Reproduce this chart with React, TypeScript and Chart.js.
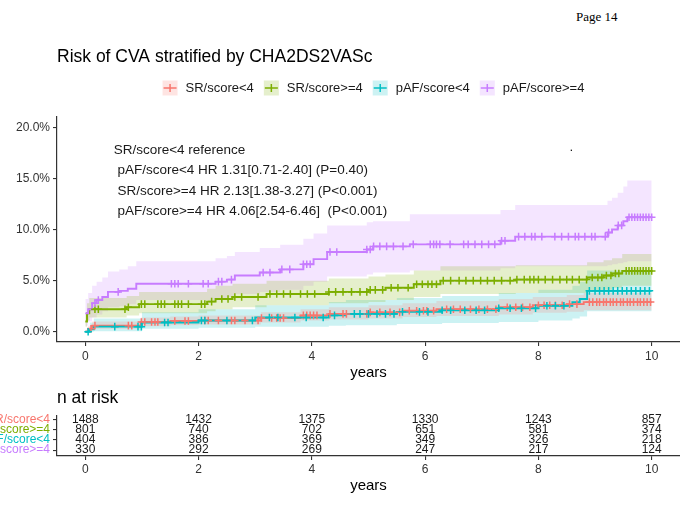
import React, { useEffect, useRef } from "react";
import { Chart, registerables } from "chart.js";

Chart.register(...registerables);

// groups and colours (ggplot default hues)
const groups = ["SR/score<4", "SR/score>=4", "pAF/score<4", "pAF/score>=4"];
const colors = ["#F8766D", "#7CAE00", "#00BFC4", "#C77CFF"];
const bandColors = [
  "rgba(248,118,109,0.2)",
  "rgba(124,174,0,0.2)",
  "rgba(0,191,196,0.2)",
  "rgba(199,124,255,0.2)",
];

const chartTitle = "Risk of CVA stratified by CHA2DS2VASc";
const annotationLines = [
  "SR/score<4 reference",
  " pAF/score<4 HR 1.31[0.71-2.40] (P=0.40)",
  " SR/score>=4 HR 2.13[1.38-3.27] (P<0.001)",
  " pAF/score>=4 HR 4.06[2.54-6.46]  (P<0.001)",
];

const xTicks = [0, 2, 4, 6, 8, 10];
const yTicks = [0, 5, 10, 15, 20];

// SR/score<4 (cumulative risk %, step points)
const srLowTimes = [0, 0.05, 0.12, 0.98, 1.5, 2.0, 3.1, 3.8, 4.3, 5.0, 5.6, 6.2, 7.3, 7.9, 8.5, 8.8, 10];
const srLowRisk = [0, 0.3, 0.6, 0.95, 1.05, 1.1, 1.35, 1.6, 1.75, 1.9, 2.05, 2.2, 2.4, 2.6, 2.7, 2.9, 2.9];
const srLowUpper = [0.2, 0.6, 1.0, 1.4, 1.5, 1.6, 1.9, 2.2, 2.4, 2.6, 2.8, 3.0, 3.2, 3.4, 3.6, 3.8, 3.8];
const srLowLower = [0, 0.1, 0.3, 0.55, 0.65, 0.7, 0.9, 1.1, 1.2, 1.3, 1.45, 1.55, 1.7, 1.85, 1.95, 2.1, 2.1];
const srLowCensor = [
  0.1, 0.17, 0.76, 0.82, 0.99, 1.05, 1.17, 1.23, 1.28, 1.58, 1.76, 1.82, 2.11, 2.17, 2.35, 2.58, 2.64, 2.82,
  3.05, 3.11, 3.29, 3.38, 3.44, 3.5, 3.85, 3.91, 3.97, 4.03, 4.09, 4.32, 4.55, 4.61, 4.97, 5.03, 5.2, 5.38,
  5.55, 5.72, 5.85, 5.97, 6.03, 6.15, 6.38, 6.5, 6.62, 6.8, 6.95, 7.1, 7.25, 7.45, 7.6, 7.72, 7.85, 8.0, 8.1,
  8.2, 8.3, 8.42, 8.55, 8.68, 8.9, 8.96, 9.03, 9.08, 9.15, 9.2, 9.27, 9.32, 9.38, 9.45, 9.5, 9.57, 9.62, 9.68,
  9.75, 9.8, 9.86, 9.92, 9.98,
];

// SR/score>=4
const srHighTimes = [0, 0.03, 0.07, 0.73, 0.95, 2.15, 2.3, 2.6, 3.2, 4.3, 5.0, 5.3, 5.8, 6.27, 7.6, 8.86, 9.15, 9.3, 9.48, 10];
const srHighRisk = [1.0, 1.8, 2.2, 2.4, 2.7, 2.95, 3.2, 3.4, 3.7, 3.9, 4.1, 4.3, 4.65, 5.0, 5.1, 5.3, 5.5, 5.7, 5.95, 5.95];
const srHighUpper = [1.8, 2.8, 3.3, 3.5, 3.9, 4.2, 4.5, 4.7, 5.0, 5.2, 5.4, 5.6, 6.0, 6.4, 6.5, 6.8, 7.0, 7.2, 7.6, 7.6];
const srHighLower = [0.5, 1.1, 1.4, 1.6, 1.8, 2.0, 2.2, 2.4, 2.6, 2.8, 2.9, 3.1, 3.4, 3.7, 3.8, 3.9, 4.1, 4.3, 4.5, 4.5];
const srHighCensor = [
  0.17, 0.23, 0.7, 0.76, 0.99, 1.05, 1.28, 1.34, 1.4, 1.58, 1.64, 1.7, 1.82, 2.05, 2.11, 2.23, 2.41, 2.52, 2.64,
  2.76, 3.05, 3.26, 3.38, 3.5, 3.62, 3.8, 3.92, 4.05, 4.3, 4.42, 4.55, 4.7, 4.85, 4.97, 5.03, 5.12, 5.25, 5.4,
  5.52, 5.7, 5.85, 5.95, 6.05, 6.12, 6.2, 6.32, 6.45, 6.6, 6.72, 6.85, 6.98, 7.1, 7.22, 7.35, 7.5, 7.62, 7.75,
  7.85, 7.92, 8.0, 8.12, 8.25, 8.38, 8.5, 8.6, 8.72, 8.85, 8.95, 9.05, 9.12, 9.2, 9.28, 9.36, 9.42, 9.55, 9.6,
  9.65, 9.7, 9.75, 9.8, 9.85, 9.9, 9.95, 10.0,
];

// pAF/score<4
const pafLowTimes = [0, 0.08, 0.15, 1.0, 2.0, 3.0, 4.3, 4.6, 5.5, 6.3, 7.3, 8.0, 8.6, 8.73, 8.86, 10];
const pafLowRisk = [0, 0.25, 0.5, 0.9, 1.1, 1.4, 1.6, 1.75, 1.95, 2.1, 2.3, 2.55, 2.9, 3.2, 4.0, 4.0];
const pafLowUpper = [0, 0.9, 1.3, 1.9, 2.2, 2.6, 2.9, 3.1, 3.3, 3.5, 3.8, 4.1, 4.5, 4.9, 6.0, 6.0];
const pafLowLower = [0, 0, 0.05, 0.3, 0.4, 0.5, 0.6, 0.65, 0.75, 0.85, 0.95, 1.1, 1.3, 1.5, 2.0, 2.0];
const pafLowCensor = [
  0.05, 0.52, 0.93, 0.99, 1.4, 1.46, 2.05, 2.11, 2.5, 2.95, 3.25, 3.4, 3.7, 3.9, 4.2, 4.4, 4.75, 4.85, 5.0,
  5.15, 5.3, 5.45, 5.6, 5.9, 6.05, 6.3, 6.45, 6.7, 6.9, 7.05, 7.3, 7.5, 7.7, 7.95, 8.15, 8.3, 8.45, 8.9, 9.0,
  9.08, 9.16, 9.24, 9.32, 9.4, 9.48, 9.56, 9.64, 9.72, 9.8, 9.88, 9.96,
];

// pAF/score>=4
const pafHighTimes = [0, 0.05, 0.12, 0.2, 0.3, 0.4, 0.6, 0.75, 0.9, 2.3, 2.5, 2.64, 3.08, 3.44, 3.85, 4.03, 4.27, 4.97, 5.08, 5.73, 7.33, 7.59, 9.22, 9.3, 9.4, 9.5, 9.57, 10.0];
const pafHighRisk = [1.8, 2.2, 2.8, 3.1, 3.4, 3.9, 4.0, 4.2, 4.7, 4.9, 5.1, 5.5, 5.8, 6.1, 6.6, 7.1, 7.8, 8.05, 8.35, 8.55, 8.9, 9.3, 9.7, 10.0, 10.4, 10.8, 11.2, 11.2];
const pafHighUpper = [3.2, 3.8, 4.5, 4.9, 5.3, 5.9, 6.1, 6.4, 6.9, 7.2, 7.4, 7.8, 8.2, 8.5, 9.1, 9.6, 10.4, 10.7, 10.8, 11.5, 11.9, 12.4, 12.8, 13.1, 13.6, 14.2, 14.8, 14.8];
const pafHighLower = [0.6, 1.0, 1.4, 1.7, 2.0, 2.4, 2.5, 2.7, 3.1, 3.3, 3.4, 3.7, 3.9, 4.1, 4.5, 4.9, 5.4, 5.6, 5.8, 6.0, 6.2, 6.4, 6.5, 6.6, 6.7, 6.8, 6.9, 6.9];
const pafHighCensor = [
  0.17, 0.23, 0.58, 1.52, 1.58, 1.64, 1.82, 2.08, 2.17, 2.35, 2.41, 2.58, 3.14, 3.26, 3.47, 3.61, 3.85, 3.91,
  3.97, 4.32, 4.44, 4.97, 5.03, 5.09, 5.2, 5.32, 5.44, 5.61, 5.79, 6.09, 6.15, 6.2, 6.26, 6.44, 6.68, 6.76,
  6.88, 7.0, 7.12, 7.23, 7.35, 7.41, 7.65, 7.76, 7.88, 7.94, 8.06, 8.29, 8.41, 8.53, 8.65, 8.71, 8.82, 8.94,
  9.0, 9.18, 9.24, 9.41, 9.47, 9.6, 9.65, 9.7, 9.75, 9.8, 9.85, 9.9, 9.95, 10.0,
];

// number at risk table
const riskTimes = [0, 2, 4, 6, 8, 10];
const nRiskSrLow = [1488, 1432, 1375, 1330, 1243, 857];
const nRiskSrHigh = [801, 740, 702, 651, 581, 374];
const nRiskPafLow = [404, 386, 369, 349, 326, 218];
const nRiskPafHigh = [330, 292, 269, 247, 217, 124];

const FONT = "'Liberation Sans', Arial, sans-serif";

const series = [
  { times: srLowTimes, risk: srLowRisk, upper: srLowUpper, lower: srLowLower, censor: srLowCensor },
  { times: srHighTimes, risk: srHighRisk, upper: srHighUpper, lower: srHighLower, censor: srHighCensor },
  { times: pafLowTimes, risk: pafLowRisk, upper: pafLowUpper, lower: pafLowLower, censor: pafLowCensor },
  { times: pafHighTimes, risk: pafHighRisk, upper: pafHighUpper, lower: pafHighLower, censor: pafHighCensor },
];
const nRisk = [nRiskSrLow, nRiskSrHigh, nRiskPafLow, nRiskPafHigh];

const stepAt = (times: number[], vals: number[], t: number) => {
  let v = vals[0];
  for (let i = 0; i < times.length; i++) if (times[i] <= t) v = vals[i];
  return v;
};

const pts = (times: number[], vals: number[]) => times.map((t, i) => ({ x: t, y: vals[i] }));

// title, legend and HR text of the main panel
const mainDecor = {
  id: "mainDecor",
  afterDraw(chart: any) {
    const { ctx, chartArea, scales } = chart;
    ctx.save();
    ctx.textBaseline = "middle";
    ctx.textAlign = "left";
    ctx.fillStyle = "#000";
    ctx.font = `17.5px ${FONT}`;
    ctx.fillText(chartTitle, chartArea.left, 57);

    // legend
    ctx.font = `13px ${FONT}`;
    const widths = groups.map((g) => ctx.measureText(g).width);
    const key = 15, gap = 8, sep = 10;
    const total = widths.reduce((a, w) => a + key + gap + w, 0) + sep * (groups.length - 1);
    let x = (chartArea.left + chartArea.right) / 2 + 5 - total / 2;
    const y = 88;
    groups.forEach((g, i) => {
      ctx.fillStyle = bandColors[i];
      ctx.fillRect(x, y - key / 2, key, key);
      ctx.strokeStyle = colors[i];
      ctx.lineWidth = 1.5;
      ctx.beginPath();
      ctx.moveTo(x + 1, y);
      ctx.lineTo(x + key - 1, y);
      ctx.moveTo(x + key / 2, y - 4);
      ctx.lineTo(x + key / 2, y + 4);
      ctx.stroke();
      ctx.fillStyle = "#1a1a1a";
      ctx.fillText(g, x + key + gap, y);
      x += key + gap + widths[i] + sep;
    });

    // HR annotation
    ctx.font = `13.5px ${FONT}`;
    ctx.fillStyle = "#1a1a1a";
    const ax = scales.x.getPixelForValue(0.5);
    const ay = scales.y.getPixelForValue(17.75);
    annotationLines.forEach((line, i) => ctx.fillText(line, ax, ay + i * 20.3));
    ctx.textBaseline = "alphabetic";
    ctx.fillText(".", scales.x.getPixelForValue(8.55), ay + 1);
    ctx.restore();
  },
};

const tableDecor = {
  id: "tableDecor",
  afterDraw(chart: any) {
    const { ctx, chartArea, scales } = chart;
    ctx.save();
    ctx.textBaseline = "middle";
    ctx.textAlign = "left";
    ctx.fillStyle = "#000";
    ctx.font = `17.5px ${FONT}`;
    ctx.fillText("n at risk", chartArea.left, 18);
    ctx.textAlign = "center";
    ctx.font = `12px ${FONT}`;
    ctx.fillStyle = "#1a1a1a";
    nRisk.forEach((row, i) => {
      const py = scales.y.getPixelForValue(groups.length - i);
      row.forEach((n, j) => ctx.fillText(String(n), scales.x.getPixelForValue(riskTimes[j]), py));
    });
    ctx.restore();
  },
};

const axisGrid = { display: true, drawOnChartArea: false, drawTicks: true, tickLength: 4, color: "#333", lineWidth: 1.1 };
const axisBorder = { display: true, color: "#333", width: 1.2 };
const noPadX = (h: number) => (s: any) => { s.height = h; s.paddingLeft = 0; s.paddingRight = 0; };
const noPadY = (s: any) => { s.width = 57; s.paddingTop = 0; s.paddingBottom = 0; };

const App: React.FC = () => {
  const mainRef = useRef<HTMLCanvasElement | null>(null);
  const tableRef = useRef<HTMLCanvasElement | null>(null);

  useEffect(() => {
    if (!mainRef.current || !tableRef.current) return;

    const datasets: any[] = [];
    // confidence bands: upper filled down to lower
    series.forEach((s, i) => {
      datasets.push({
        data: pts(s.times, s.upper), stepped: true, borderWidth: 0, borderColor: "transparent",
        pointRadius: 0, fill: "+1", backgroundColor: bandColors[i], order: 100,
      });
      datasets.push({
        data: pts(s.times, s.lower), stepped: true, borderWidth: 0, borderColor: "transparent",
        pointRadius: 0, fill: false, order: 100,
      });
    });
    // step curves
    series.forEach((s, i) => {
      datasets.push({
        label: groups[i], data: pts(s.times, s.risk), stepped: true, borderColor: colors[i],
        borderWidth: 1.9, pointRadius: 0, fill: false, order: 20 - i,
      });
    });
    // censor marks
    series.forEach((s, i) => {
      datasets.push({
        data: s.censor.map((t) => ({ x: t, y: stepAt(s.times, s.risk, t) })),
        showLine: false, pointStyle: "cross", pointRadius: 3.8, pointBorderWidth: 1.5,
        pointBorderColor: colors[i], pointBackgroundColor: colors[i], order: 10 - i,
      });
    });

    const mainChart = new Chart(mainRef.current, {
      type: "line",
      data: { datasets },
      plugins: [mainDecor],
      options: {
        animation: false,
        responsive: true,
        maintainAspectRatio: false,
        events: [],
        layout: { autoPadding: false, padding: { top: 117, right: 0, bottom: 0, left: 0 } },
        plugins: {
          legend: { display: false },
          tooltip: { enabled: false },
          filler: { drawTime: "beforeDatasetsDraw" },
        },
        scales: {
          x: {
            type: "linear", min: -0.5, max: 10.5,
            afterBuildTicks: (s: any) => { s.ticks = xTicks.map((v) => ({ value: v })); },
            afterFit: noPadX(38),
            grid: axisGrid, border: axisBorder,
            ticks: { color: "#333", font: { family: FONT, size: 12 }, padding: 3, maxRotation: 0, autoSkip: false },
            title: { display: true, text: "years", color: "#000", font: { family: FONT, size: 15 }, padding: { top: 0, bottom: -2 } },
          },
          y: {
            type: "linear", min: -1, max: 21,
            afterBuildTicks: (s: any) => { s.ticks = yTicks.map((v) => ({ value: v })); },
            afterFit: noPadY,
            grid: axisGrid, border: axisBorder,
            ticks: { color: "#333", font: { family: FONT, size: 12 }, padding: 3, autoSkip: false, callback: (v: any) => `${Number(v).toFixed(1)}%` },
          },
        },
      } as any,
    });

    const tableChart = new Chart(tableRef.current, {
      type: "line",
      data: { datasets: [] },
      plugins: [tableDecor],
      options: {
        animation: false,
        responsive: true,
        maintainAspectRatio: false,
        events: [],
        layout: { autoPadding: false, padding: { top: 35.5, right: 0, bottom: 0, left: 0 } },
        plugins: { legend: { display: false }, tooltip: { enabled: false } },
        scales: {
          x: {
            type: "linear", min: -0.5, max: 10.5,
            afterBuildTicks: (s: any) => { s.ticks = xTicks.map((v) => ({ value: v })); },
            afterFit: noPadX(51),
            grid: axisGrid, border: axisBorder,
            ticks: { color: "#333", font: { family: FONT, size: 12 }, padding: 2, maxRotation: 0, autoSkip: false },
            title: { display: true, text: "years", color: "#000", font: { family: FONT, size: 15 }, padding: { top: 0, bottom: 12 } },
          },
          y: {
            type: "linear", min: 0.42, max: 4.42,
            afterBuildTicks: (s: any) => { s.ticks = [1, 2, 3, 4].map((v) => ({ value: v })); },
            afterFit: noPadY,
            grid: axisGrid, border: axisBorder,
            ticks: {
              font: { family: FONT, size: 12 }, padding: 3, autoSkip: false,
              color: (c: any) => colors[groups.length - c.tick.value],
              callback: (v: any) => groups[groups.length - Number(v)],
            },
          },
        },
      } as any,
    });

    return () => {
      mainChart.destroy();
      tableChart.destroy();
    };
  }, []);

  return (
    <div style={{ position: "absolute", left: 0, top: 0, width: 680, height: 507, background: "#fff", overflow: "hidden" }}>
      <div style={{ position: "absolute", left: 576, top: 9, font: "13px 'Liberation Serif', 'Times New Roman', serif", lineHeight: "16px", color: "#000" }}>
        Page 14
      </div>
      <div style={{ position: "absolute", left: 0, top: 0, width: 680, height: 380 }}>
        <canvas ref={mainRef} />
      </div>
      <div style={{ position: "absolute", left: 0, top: 380, width: 680, height: 127 }}>
        <canvas ref={tableRef} />
      </div>
    </div>
  );
};

export default App;
